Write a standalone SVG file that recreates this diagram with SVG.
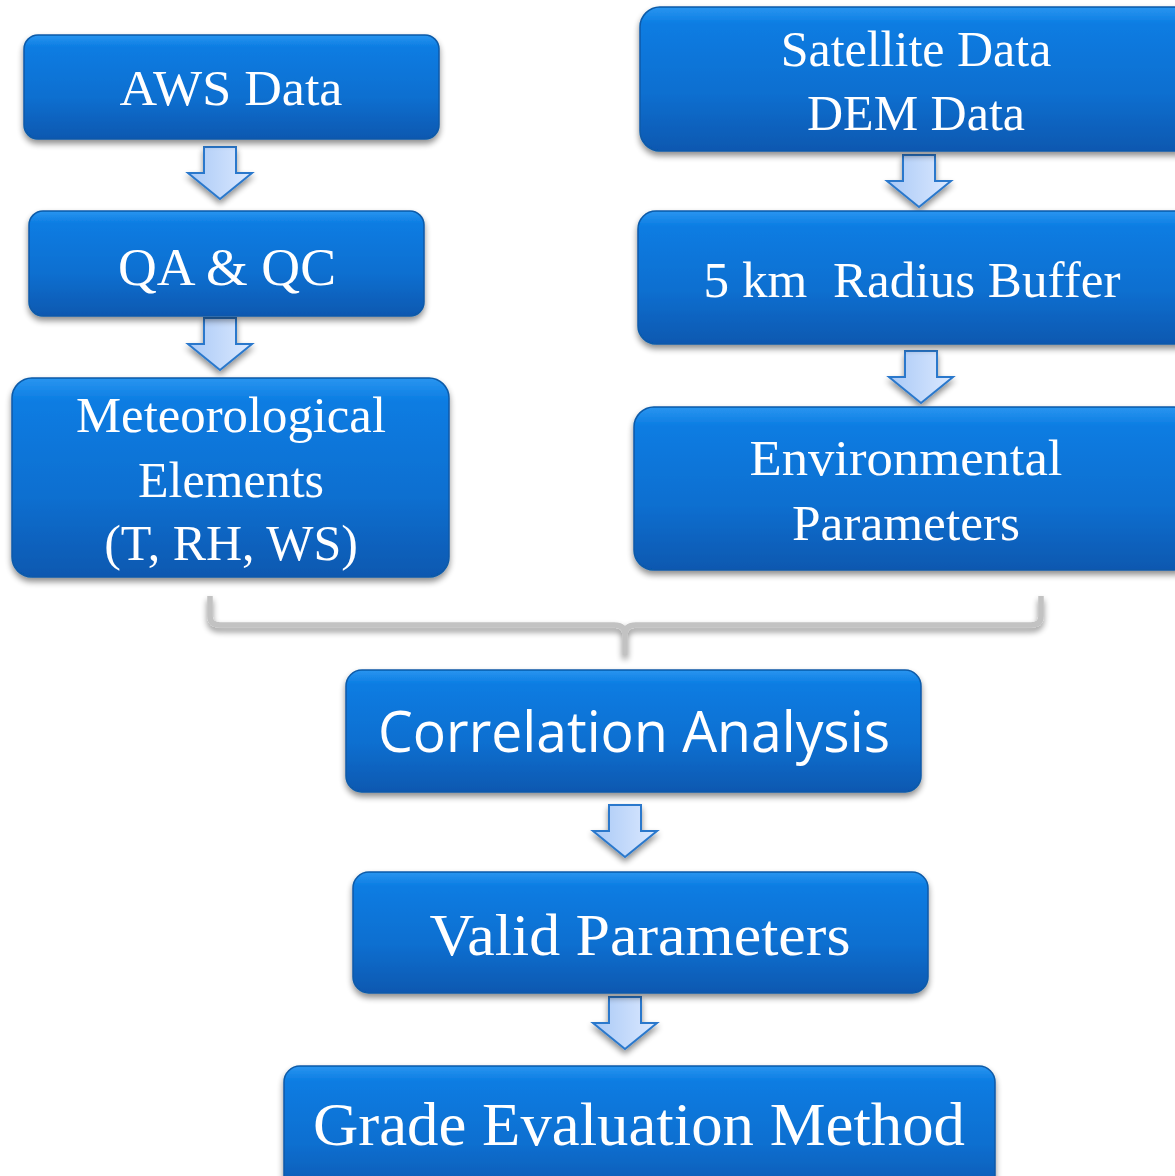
<svg xmlns="http://www.w3.org/2000/svg" width="1175" height="1176" viewBox="0 0 1175 1176">
<defs>
<linearGradient id="boxg" x1="0" y1="0" x2="0" y2="1">
<stop offset="0" stop-color="#2a95f0"/>
<stop offset="0.12" stop-color="#0a7ce2"/>
<stop offset="0.6" stop-color="#0a6fd0"/>
<stop offset="1" stop-color="#0758b0"/>
</linearGradient>
<linearGradient id="arrg" x1="0" y1="0" x2="1" y2="0">
<stop offset="0" stop-color="#a9c9f6"/>
<stop offset="1" stop-color="#dce9ff"/>
</linearGradient>
<filter id="sh" x="-10%" y="-10%" width="120%" height="130%">
<feGaussianBlur in="SourceAlpha" stdDeviation="3"/>
<feOffset dx="0" dy="4" result="b"/>
<feComponentTransfer><feFuncA type="linear" slope="0.45"/></feComponentTransfer>
<feMerge><feMergeNode/><feMergeNode in="SourceGraphic"/></feMerge>
</filter>
<path id="arrow" d="M-16,0 H16 V26 H32 L0,52 L-32,26 H-16 Z"/>
</defs>
<style>
.box{fill:url(#boxg);stroke:#0a5aa8;stroke-width:1.5;filter:url(#sh)}
.t{fill:#ffffff;font-family:"Liberation Serif","Times New Roman",serif;text-anchor:middle}
.s{fill:#ffffff;font-family:"Open Sans","Noto Sans",sans-serif;text-anchor:middle}
.arr{fill:url(#arrg);stroke:#2a78cc;stroke-width:2;stroke-linejoin:miter;filter:url(#sh)}
.br{fill:none;stroke:#c2c2c2;stroke-width:5.5;filter:url(#sh)}
</style>
<rect width="1175" height="1176" fill="#ffffff"/>
<g id="connectors">
<use href="#arrow" class="arr" transform="translate(220,147)"/>
<use href="#arrow" class="arr" transform="translate(220,318)"/>
<use href="#arrow" class="arr" transform="translate(919,155)"/>
<use href="#arrow" class="arr" transform="translate(921,351)"/>
<use href="#arrow" class="arr" transform="translate(625,805)"/>
<use href="#arrow" class="arr" transform="translate(625,997)"/>
<path class="br" d="M210,596 V616 Q210,625 220,625 H614 Q625,625 625,634 V655 M625,634 Q625,625 636,625 H1031 Q1041,625 1041,616 V596"/>
</g>
<g id="aws">
<rect class="box" x="24" y="35" width="415" height="104" rx="14"/>
<text class="t" x="231" y="105" font-size="50" textLength="223" lengthAdjust="spacingAndGlyphs">AWS Data</text>
</g>
<g id="qaqc">
<rect class="box" x="29" y="211" width="395" height="105" rx="14"/>
<text class="t" x="227" y="285" font-size="52" textLength="218" lengthAdjust="spacingAndGlyphs">QA &amp; QC</text>
</g>
<g id="met">
<rect class="box" x="12" y="378" width="437" height="199" rx="20"/>
<text class="t" x="231" y="432" font-size="50" textLength="310" lengthAdjust="spacingAndGlyphs">Meteorological</text>
<text class="t" x="231" y="497" font-size="50">Elements</text>
<text class="t" x="231" y="560" font-size="50">(T, RH, WS)</text>
</g>
<g id="sat">
<rect class="box" x="640" y="7" width="560" height="144" rx="20"/>
<text class="t" x="916" y="66" font-size="50">Satellite Data</text>
<text class="t" x="916" y="130" font-size="50">DEM Data</text>
</g>
<g id="buffer">
<rect class="box" x="638" y="211" width="560" height="133" rx="18"/>
<text class="t" x="912" y="297" font-size="50" textLength="417" lengthAdjust="spacingAndGlyphs" xml:space="preserve" style="white-space:pre">5 km  Radius Buffer</text>
</g>
<g id="env">
<rect class="box" x="634" y="407" width="560" height="163" rx="20"/>
<text class="t" x="906" y="475" font-size="50" textLength="313" lengthAdjust="spacingAndGlyphs">Environmental</text>
<text class="t" x="906" y="540" font-size="50" textLength="228" lengthAdjust="spacingAndGlyphs">Parameters</text>
</g>
<g id="corr">
<rect class="box" x="346" y="670" width="575" height="122" rx="16"/>
<text class="s" x="634" y="752" font-size="56" textLength="512" lengthAdjust="spacingAndGlyphs">Correlation Analysis</text>
</g>
<g id="valid">
<rect class="box" x="353" y="872" width="575" height="121" rx="16"/>
<text class="t" x="640" y="955" font-size="60" textLength="421" lengthAdjust="spacingAndGlyphs">Valid Parameters</text>
</g>
<g id="grade">
<rect class="box" x="284" y="1066" width="711" height="130" rx="16"/>
<text class="t" x="639" y="1145" font-size="62" textLength="652" lengthAdjust="spacingAndGlyphs">Grade Evaluation Method</text>
</g>
</svg>
